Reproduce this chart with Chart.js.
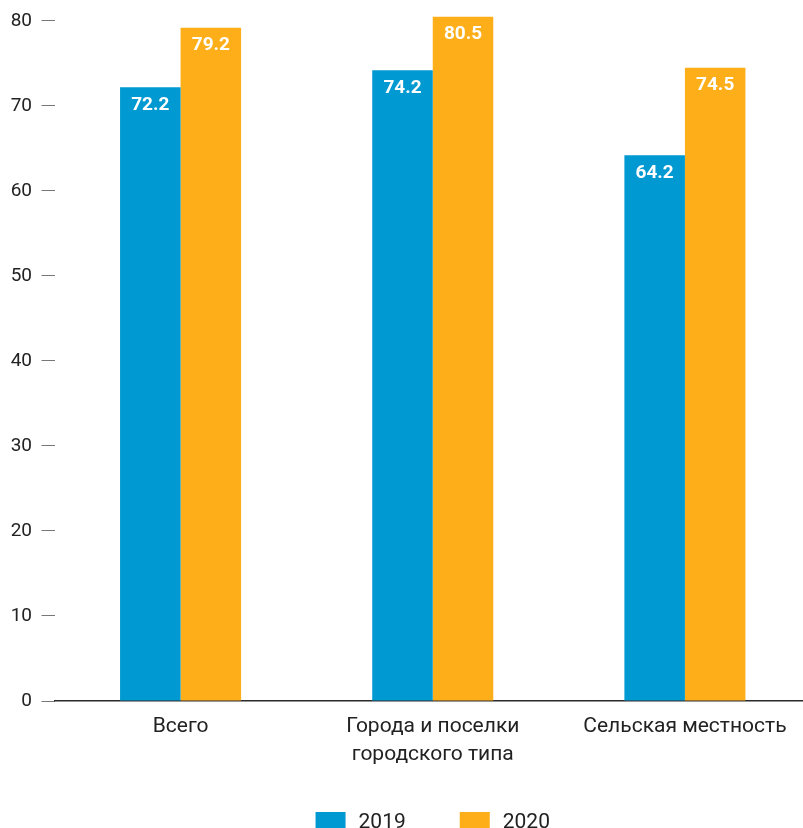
<!DOCTYPE html>
<html><head><meta charset="utf-8">
<script src="https://cdn.jsdelivr.net/npm/chart.js@4"></script>
<style>
html,body{margin:0;padding:0;background:#fff;overflow:hidden}
#wrap{width:803px;height:828px;overflow:hidden;position:relative}
canvas{display:block}
</style>
</head><body>
<div id="wrap"><canvas id="c" width="811" height="828"></canvas></div>
<script>
// ---- data ----
const categories = ['Всего', ['Города и поселки', 'городского типа'], 'Сельская местность'];
const seriesNames = ['2019', '2020'];
const values2019 = [72.2, 74.2, 64.2];
const values2020 = [79.2, 80.5, 74.5];
const yTickMin = 0;
const yTickMax = 80;
const yTickStep = 10;

const FONT = 'Roboto';
const colors = ['#0099D1', '#FDAE18'];

const valueLabels = {
  id: 'valueLabels',
  afterDatasetsDraw(chart) {
    const ctx = chart.ctx;
    ctx.save();
    ctx.font = 'bold 19px ' + FONT;
    ctx.fillStyle = '#ffffff';
    ctx.textAlign = 'center';
    ctx.textBaseline = 'alphabetic';
    chart.data.datasets.forEach((ds, di) => {
      const meta = chart.getDatasetMeta(di);
      meta.data.forEach((el, i) => {
        ctx.fillText(ds.data[i].toFixed(1), el.x, el.y + 22.5);
      });
    });
    ctx.restore();
  }
};

const bottomLegend = {
  id: 'bottomLegend',
  afterDraw(chart) {
    const ctx = chart.ctx;
    const ca = chart.chartArea;
    ctx.save();
    ctx.font = '21px ' + FONT;
    const boxW = 30, boxH = 17, gapText = 13, gapItem = 54;
    const items = chart.data.datasets.map(ds => ({ label: ds.label, color: ds.backgroundColor, w: ctx.measureText(ds.label).width }));
    let total = 0;
    items.forEach((it, i) => { total += boxW + gapText + it.w + (i < items.length - 1 ? gapItem : 0); });
    let x = (ca.left + ca.right) / 2 - total / 2;
    const boxTop = 812;
    ctx.textBaseline = 'alphabetic';
    ctx.textAlign = 'left';
    items.forEach(it => {
      ctx.fillStyle = it.color;
      ctx.fillRect(x, boxTop, boxW, boxH);
      ctx.fillStyle = '#222222';
      ctx.fillText(it.label, x + boxW + gapText, 827.5);
      x += boxW + gapText + it.w + gapItem;
    });
    ctx.restore();
  }
};

new Chart(document.getElementById('c'), {
  type: 'bar',
  data: {
    labels: categories,
    datasets: [
      { label: seriesNames[0], data: values2019, backgroundColor: colors[0], borderWidth: 0, clip: false },
      { label: seriesNames[1], data: values2020, backgroundColor: colors[1], borderWidth: 0, clip: false }
    ]
  },
  options: {
    responsive: false,
    animation: false,
    devicePixelRatio: 1,
    layout: { padding: { top: 20.5, left: 0, right: 0, bottom: 0 } },
    datasets: { bar: { barPercentage: 1.0, categoryPercentage: 0.48 } },
    plugins: { legend: { display: false }, tooltip: { enabled: false } },
    scales: {
      x: {
        grid: { display: false, drawTicks: false },
        border: { display: true, color: '#2a2a2a', width: 1.5 },
        ticks: { color: '#222222', font: { family: FONT, size: 21, lineHeight: 1.33 }, padding: 12, maxRotation: 0, autoSkip: false },
        afterFit(scale) { scale.height = 127; }
      },
      y: {
        min: yTickMin,
        max: yTickMax,
        grid: { display: true, drawOnChartArea: false, drawTicks: true, tickLength: 13, color: '#777777', lineWidth: 1 },
        border: { display: false },
        ticks: { stepSize: yTickStep, color: '#222222', font: { family: FONT, size: 19 }, padding: 9.5 },
        afterFit(scale) { scale.width = 54.5; }
      }
    }
  },
  plugins: [valueLabels, bottomLegend]
});
</script>
</body></html>
